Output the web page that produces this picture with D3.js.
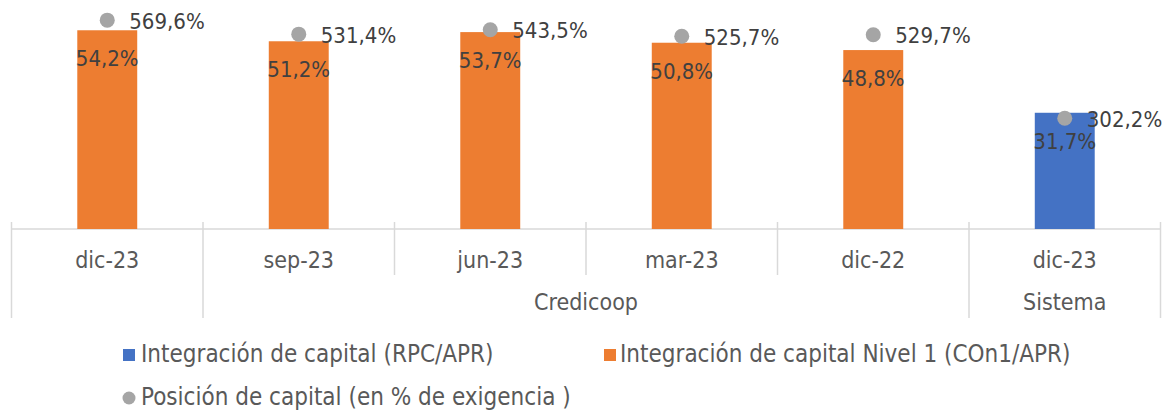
<!DOCTYPE html>
<html>
<head>
<meta charset="utf-8">
<script src="https://cdn.jsdelivr.net/npm/d3@7"></script>
<style>
  body { margin: 0; background: #fff; }
  svg { display: block; font-family: "DejaVu Sans Condensed", "DejaVu Sans", sans-serif; font-stretch: condensed; }
</style>
</head>
<body>
<div class="chart"></div>
<script>
// datos
const periodos = ["dic-23", "sep-23", "jun-23", "mar-23", "dic-22", "dic-23"];
const grupos = ["", "Credicoop", "Credicoop", "Credicoop", "Credicoop", "Sistema"];
const rpcApr = [null, null, null, null, null, 31.7];
const con1Apr = [54.2, 51.2, 53.7, 50.8, 48.8, null];
const posicion = [569.6, 531.4, 543.5, 525.7, 529.7, 302.2];
const series = ["Integración de capital (RPC/APR)", "Integración de capital Nivel 1 (COn1/APR)", "Posición de capital (en % de exigencia )"];

const width = 1164, height = 412;
const plotLeft = 11.5, plotRight = 1160.5, base = 229, plotTop = 9;

const locale = d3.formatLocale({decimal: ",", thousands: ".", grouping: [3], currency: ["$", ""]});
const fmt = v => locale.format(".1f")(v) + "%";

const svg = d3.select(".chart").append("svg")
  .attr("width", width)
  .attr("height", height);

const x = d3.scaleBand().domain(d3.range(periodos.length)).range([plotLeft, plotRight]).padding(0);
const y0 = d3.scaleLinear().domain([0, 60]).range([base, plotTop]);
const y1 = d3.scaleLinear().domain([0, 600]).range([base, plotTop]);
const barW = x.bandwidth() * 0.313;

// ejes
const axis = svg.append("g").attr("stroke", "#d9d9d9").attr("stroke-width", 1.5);
axis.append("line").attr("x1", plotLeft).attr("x2", plotRight).attr("y1", base).attr("y2", base);
d3.range(periodos.length + 1).forEach(i => {
  const xx = i < periodos.length ? x(i) : plotRight;
  const isGroupEdge = i === 0 || i === periodos.length || grupos[i] !== grupos[i - 1];
  axis.append("line")
    .attr("x1", xx).attr("x2", xx)
    .attr("y1", 222).attr("y2", isGroupEdge ? 318 : 275);
});

// barras
const bars = periodos.map((p, i) => ({i, v: rpcApr[i] != null ? rpcApr[i] : con1Apr[i], c: rpcApr[i] != null ? "#4472c4" : "#ed7d31"}));
svg.append("g").selectAll("rect").data(bars).join("rect")
  .attr("x", d => x(d.i) + x.bandwidth() / 2 - barW / 2)
  .attr("y", d => y0(d.v))
  .attr("width", barW)
  .attr("height", d => base - y0(d.v))
  .attr("fill", d => d.c);

svg.append("g").selectAll("text").data(bars).join("text")
  .attr("x", d => x(d.i) + x.bandwidth() / 2)
  .attr("y", d => y0(d.v) + 36)
  .attr("text-anchor", "middle")
  .attr("font-size", 22)
  .attr("fill", "#404040")
  .text(d => fmt(d.v));

// puntos
const pts = posicion.map((v, i) => ({i, v}));
svg.append("g").selectAll("circle").data(pts).join("circle")
  .attr("cx", d => x(d.i) + x.bandwidth() / 2)
  .attr("cy", d => y1(d.v))
  .attr("r", 7.5)
  .attr("fill", "#a5a5a5");

svg.append("g").selectAll("text").data(pts).join("text")
  .attr("x", d => x(d.i) + x.bandwidth() / 2 + 22)
  .attr("y", d => y1(d.v) + 8.5)
  .attr("font-size", 22)
  .attr("fill", "#404040")
  .text(d => fmt(d.v));

// etiquetas de categoria
svg.append("g").selectAll("text").data(periodos).join("text")
  .attr("x", (d, i) => x(i) + x.bandwidth() / 2)
  .attr("y", 268)
  .attr("text-anchor", "middle")
  .attr("font-size", 23)
  .attr("fill", "#595959")
  .text(d => d);

const grpData = d3.groups(periodos.map((p, i) => ({g: grupos[i], i})), d => d.g)
  .filter(d => d[0] !== "");
svg.append("g").selectAll("text").data(grpData).join("text")
  .attr("x", d => (x(d3.min(d[1], e => e.i)) + x(d3.max(d[1], e => e.i)) + x.bandwidth()) / 2)
  .attr("y", 310)
  .attr("text-anchor", "middle")
  .attr("font-size", 23)
  .attr("fill", "#595959")
  .text(d => d[0]);

// leyenda
const leg = svg.append("g").attr("font-size", 24).attr("fill", "#595959");
leg.append("rect").attr("x", 123).attr("y", 349).attr("width", 12).attr("height", 12).attr("fill", "#4472c4");
leg.append("text").attr("x", 141).attr("y", 362).text(series[0]);
leg.append("rect").attr("x", 604).attr("y", 349).attr("width", 12).attr("height", 12).attr("fill", "#ed7d31");
leg.append("text").attr("x", 620).attr("y", 362).text(series[1]);
leg.append("circle").attr("cx", 129).attr("cy", 398).attr("r", 6.5).attr("fill", "#a5a5a5");
leg.append("text").attr("x", 141).attr("y", 405).text(series[2]);
</script>
</body>
</html>
